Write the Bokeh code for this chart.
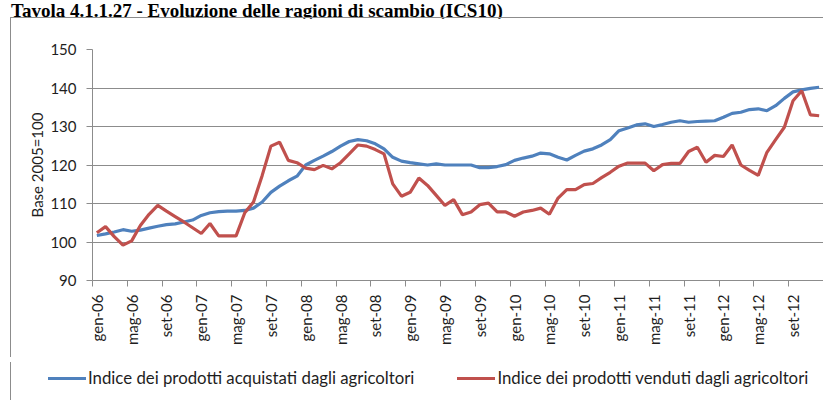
from bokeh.plotting import figure
from bokeh.models import Range1d, FixedTicker, Div
from bokeh.layouts import column
from bokeh.embed import file_html
from bokeh.resources import INLINE
import math

# ---- data ----
months = ["gen", "feb", "mar", "apr", "mag", "giu", "lug", "ago", "set", "ott", "nov", "dic"]
years = ["06", "07", "08", "09", "10", "11", "12"]
periods = [f"{m}-{y}" for y in years for m in months]

acquistati = [101.7, 102.1, 102.6, 103.2, 102.8, 103.1, 103.6, 104.1, 104.5, 104.7, 105.2, 105.7,
              106.9, 107.6, 107.9, 108.0, 108.0, 108.2, 108.8, 110.4, 112.9, 114.5, 115.9, 117.1,
              120.0, 121.2, 122.3, 123.5, 124.9, 126.1, 126.6, 126.3, 125.5, 124.2, 122.0, 121.0,
              120.6, 120.3, 120.0, 120.3, 120.0, 120.0, 120.0, 120.0, 119.3, 119.3, 119.6, 120.1,
              121.2, 121.8, 122.3, 123.1, 122.9, 122.0, 121.3, 122.5, 123.6, 124.2, 125.2, 126.6,
              128.9, 129.6, 130.4, 130.7, 130.0, 130.5, 131.1, 131.5, 131.1, 131.3, 131.4, 131.5,
              132.4, 133.4, 133.7, 134.4, 134.6, 134.1, 135.4, 137.3, 139.0, 139.5, 139.9, 140.2]

venduti = [102.4, 104.0, 101.4, 99.2, 100.3, 104.3, 107.2, 109.5, 108.0, 106.6, 105.2, 103.7,
           102.2, 104.8, 101.6, 101.6, 101.6, 107.6, 110.4, 117.3, 124.9, 125.9, 121.2, 120.6,
           119.2, 118.8, 119.9, 119.0, 120.6, 122.9, 125.2, 124.9, 124.0, 122.9, 115.1, 111.9,
           112.9, 116.6, 114.7, 112.1, 109.5, 111.0, 107.1, 107.8, 109.7, 110.1, 107.8, 107.8,
           106.7, 107.8, 108.2, 108.8, 107.2, 111.4, 113.6, 113.6, 114.9, 115.2, 116.7, 118.1,
           119.7, 120.5, 120.5, 120.5, 118.5, 120.1, 120.4, 120.4, 123.5, 124.6, 120.7, 122.5,
           122.2, 125.2, 120.0, 118.6, 117.3, 123.3, 126.6, 129.8, 136.7, 139.3, 133.0, 132.8]

y_ticks = [90, 100, 110, 120, 130, 140, 150]
tick_every = 4

title_text = "Tavola 4.1.1.27 - Evoluzione delle ragioni di scambio (ICS10)"
y_label = "Base 2005=100"
label_acq = "Indice dei prodotti acquistati dagli agricoltori"
label_ven = "Indice dei prodotti venduti dagli agricoltori"

BLUE = "#4F81BD"
RED = "#C0504D"
GRID = "#8C8C8C"
TXT = "#1E1E1E"
FONT = "Lato"

n = len(periods)
xs = [i + 0.5 for i in range(n)]

title_div = Div(
    text=('<div style="font-family: \'Liberation Serif\'; font-weight: bold; font-size: 19px; '
          'line-height: 19px; margin-top: -9px; margin-left: 6px; white-space: nowrap; color: black;">'
          + title_text + '</div>'),
    width=813, height=7, styles={"overflow": "visible"})

p = figure(width=813, height=340, output_backend="svg", toolbar_location=None,
           x_range=Range1d(0, n), y_range=Range1d(90, 150),
           min_border_left=81, min_border_right=1, min_border_top=31, min_border_bottom=78,
           styles={"border-left": f"1px solid {GRID}", "border-top": f"1px solid {GRID}",
                   "margin-left": "10px"})
p.outline_line_color = None
p.background_fill_color = "white"
p.border_fill_color = "white"

# grid
p.xgrid.grid_line_color = None
p.ygrid.grid_line_color = GRID
p.ygrid.grid_line_width = 1
p.ygrid.ticker = FixedTicker(ticks=y_ticks)

# y axis
ya = p.yaxis[0]
ya.ticker = FixedTicker(ticks=y_ticks)
ya.axis_line_color = GRID
ya.major_tick_line_color = GRID
ya.major_tick_out = 6
ya.major_tick_in = 0
ya.minor_tick_line_color = None
ya.major_label_text_font = FONT
ya.major_label_text_font_size = "15px"
ya.major_label_text_color = TXT
ya.major_label_standoff = 10
ya.axis_label = y_label
ya.axis_label_text_font = FONT
ya.axis_label_text_font_size = "15px"
ya.axis_label_text_font_style = "normal"
ya.axis_label_text_color = TXT
ya.axis_label_standoff = 1

# x axis: labels at category centres, tick marks between categories
xa = p.xaxis[0]
major = [i + 0.5 for i in range(0, n, tick_every)]
minor = [i for i in range(0, n + 1, tick_every)]
xa.ticker = FixedTicker(ticks=major, minor_ticks=minor)
xa.major_label_overrides = {i + 0.5: periods[i] for i in range(0, n, tick_every)}
xa.major_label_orientation = math.pi / 2
xa.major_tick_out = 0
xa.major_tick_in = 0
xa.minor_tick_out = 6
xa.minor_tick_in = 0
xa.minor_tick_line_color = GRID
xa.axis_line_color = GRID
xa.major_label_text_font = FONT
xa.major_label_text_font_size = "15px"
xa.major_label_text_color = TXT
xa.major_label_standoff = 8

p.line(xs, acquistati, line_color=BLUE, line_width=3.2)
p.line(xs, venduti, line_color=RED, line_width=3.2)

# legend strip below the chart
def legend_entry(color, label):
    return (f'<span style="display:inline-block;width:38px;height:3px;background:{color};'
            f'margin-right:2px;"></span><span>{label}</span>')

legend_div = Div(
    text=(f'<div style="display:flex;align-items:center;height:32px;padding-left:37px;'
          f'font-family:Lato;font-size:16.8px;color:{TXT};white-space:nowrap;">'
          + legend_entry(BLUE, label_acq)
          + '<span style="display:inline-block;width:43px;"></span>'
          + legend_entry(RED, label_ven) + '</div>'),
    width=813, height=38,
    styles={"border-left": f"1px solid {GRID}", "overflow": "visible", "margin-left": "10px"})

layout = column(title_div, p, legend_div, spacing=0)

open("out.html", "w").write(file_html(layout, INLINE))
